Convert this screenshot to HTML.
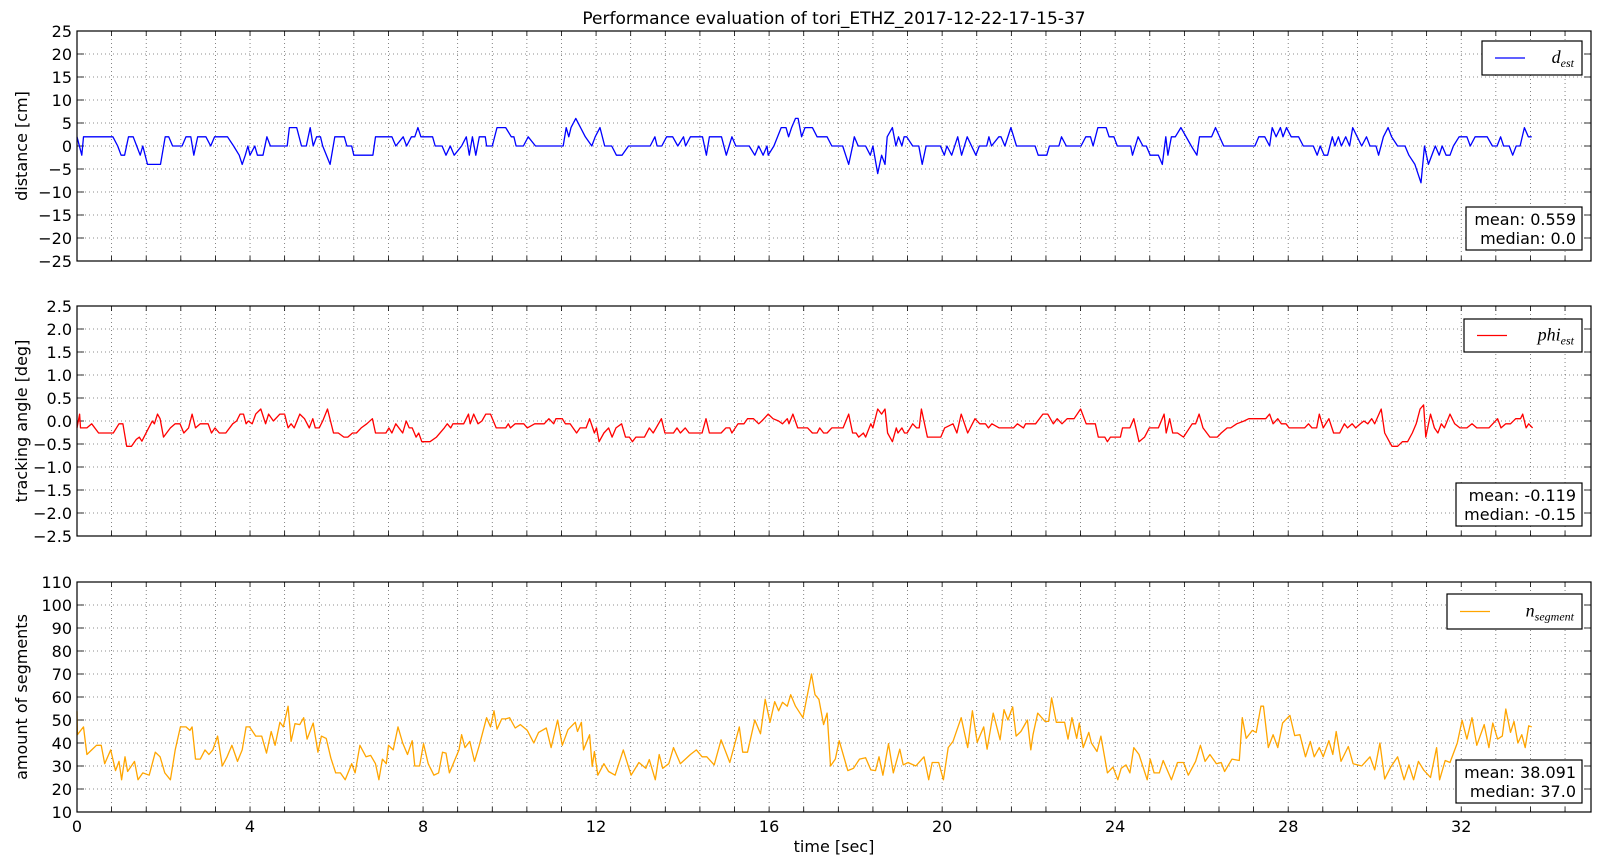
<!DOCTYPE html>
<html><head><meta charset="utf-8">
<style>
html,body{margin:0;padding:0;background:#fff;}
svg{display:block;font-family:"DejaVu Sans","Liberation Sans",sans-serif;}
</style></head>
<body>
<svg id="chart" width="1600" height="866" viewBox="0 0 1600 866" xmlns="http://www.w3.org/2000/svg">
<rect width="1600" height="866" fill="#fff"/>
<text x="834" y="24" font-size="17" text-anchor="middle">Performance evaluation of tori_ETHZ_2017-12-22-17-15-37</text>
<text x="834" y="852" font-size="16" text-anchor="middle">time [sec]</text>
</svg>
<script>
// ---- data ----
const xTickLabels = [0,4,8,12,16,20,24,28,32];
const dTicks = [25,20,15,10,5,0,-5,-10,-15,-20,-25];
const phiTicks = [2.5,2.0,1.5,1.0,0.5,0.0,-0.5,-1.0,-1.5,-2.0,-2.5];
const segTicks = [110,100,90,80,70,60,50,40,30,20,10];

const dTime = [0,0.11,0.15,0.83,0.94,1.02,1.10,1.19,1.30,1.38,1.46,1.52,1.63,1.93,2.04,2.12,2.21,2.43,2.52,2.63,2.70,2.79,2.98,3.09,3.18,3.48,3.62,3.75,3.82,3.89,3.95,4.00,4.11,4.17,4.30,4.39,4.47,4.86,4.91,5.08,5.19,5.30,5.39,5.46,5.54,5.63,5.68,5.85,5.96,6.18,6.24,6.35,6.40,6.84,6.90,7.28,7.37,7.54,7.62,7.73,7.81,7.88,7.95,8.22,8.28,8.44,8.53,8.63,8.72,8.89,9.00,9.07,9.14,9.22,9.30,9.44,9.47,9.60,9.71,9.91,10.04,10.10,10.15,10.32,10.43,10.60,11.24,11.31,11.37,11.42,11.53,11.75,11.90,11.98,12.09,12.20,12.36,12.47,12.60,12.75,13.25,13.36,13.41,13.52,13.63,13.77,13.89,14.02,14.07,14.18,14.46,14.55,14.62,14.90,15.01,15.14,15.23,15.54,15.67,15.76,15.86,15.95,15.98,16.11,16.28,16.39,16.45,16.52,16.61,16.67,16.75,16.83,17.00,17.11,17.34,17.45,17.70,17.84,17.93,17.97,18.06,18.23,18.34,18.40,18.51,18.60,18.68,18.73,18.85,18.93,18.99,19.07,19.12,19.18,19.32,19.46,19.54,19.63,19.96,20.05,20.11,20.22,20.36,20.45,20.58,20.78,20.86,21.03,21.08,21.14,21.31,21.36,21.45,21.59,21.72,22.15,22.22,22.42,22.48,22.70,22.76,22.87,23.21,23.32,23.43,23.49,23.60,23.79,23.86,23.97,24.05,24.36,24.40,24.53,24.64,24.72,24.81,25.00,25.09,25.17,25.22,25.30,25.39,25.52,25.76,25.89,25.95,26.23,26.32,26.51,27.23,27.32,27.46,27.57,27.63,27.72,27.82,27.88,27.96,28.07,28.24,28.35,28.58,28.67,28.74,28.83,28.91,29.02,29.08,29.16,29.23,29.33,29.42,29.49,29.70,29.81,29.89,30.03,30.09,30.20,30.31,30.39,30.53,30.70,30.79,30.93,31.07,31.15,31.24,31.40,31.49,31.56,31.65,31.74,31.82,31.95,32.13,32.21,32.32,32.60,32.72,32.83,32.91,32.98,33.11,33.19,33.27,33.36,33.46,33.55,33.63];
const dValues = [2,-2,2,2,0,-2,-2,2,2,0,-2,0,-4,-4,2,2,0,0,2,2,-2,2,2,0,2,2,0,-2,-4,-2,0,-2,0,-2,-2,2,0,0,4,4,0,0,4,0,2,2,0,-4,2,2,0,0,-2,-2,2,2,0,2,0,2,2,4,2,2,0,0,-2,0,-2,0,2,-2,2,-2,2,2,0,0,4,4,2,2,0,0,2,0,0,4,2,4,6,2,0,2,4,0,0,-2,-2,0,0,2,0,0,2,2,0,2,0,2,2,-2,2,2,-2,2,0,0,-2,0,-2,0,-2,0,4,4,2,4,6,6,2,4,4,2,2,0,0,-4,0,2,0,0,-2,0,-6,-2,-4,2,4,0,2,0,2,2,0,0,-4,0,0,-2,0,-2,2,-2,2,-2,0,0,2,0,2,2,0,4,0,0,-2,-2,0,0,2,0,0,2,2,0,4,4,2,2,0,0,-2,2,0,0,-2,-2,-4,2,-2,2,2,4,0,-2,2,2,4,0,0,2,2,0,4,2,4,2,4,2,2,0,0,-2,0,-2,-2,2,0,2,0,2,0,4,0,2,0,0,-2,2,4,2,0,0,-2,-4,-8,0,-4,0,-2,0,-2,-2,0,2,2,0,2,2,0,0,2,0,0,-2,0,0,4,2,2];

const phiTime = [0,0.06,0.08,0.23,0.34,0.50,0.84,0.97,1.06,1.15,1.26,1.37,1.44,1.50,1.63,1.74,1.79,1.86,1.92,2.00,2.16,2.27,2.38,2.47,2.58,2.66,2.74,2.85,3.03,3.11,3.19,3.29,3.44,3.60,3.69,3.77,3.85,3.91,3.96,4.05,4.13,4.25,4.36,4.43,4.54,4.69,4.80,4.88,4.95,5.02,5.15,5.26,5.37,5.45,5.51,5.60,5.68,5.79,5.93,6.04,6.17,6.26,6.37,6.46,6.57,6.70,6.83,6.90,7.14,7.21,7.28,7.37,7.53,7.61,7.68,7.75,7.84,7.90,7.97,8.16,8.31,8.49,8.56,8.64,8.69,8.94,9.05,9.09,9.17,9.27,9.36,9.45,9.56,9.69,9.91,9.97,10.02,10.13,10.33,10.41,10.58,10.80,10.91,11.02,11.07,11.22,11.29,11.40,11.55,11.63,11.77,11.85,11.96,12.01,12.07,12.18,12.29,12.37,12.46,12.59,12.68,12.77,12.84,12.92,13.12,13.23,13.32,13.51,13.59,13.79,13.87,13.95,14.06,14.15,14.45,14.54,14.62,14.89,15.00,15.09,15.14,15.28,15.42,15.50,15.64,15.76,15.83,15.98,16.09,16.22,16.31,16.42,16.46,16.55,16.66,16.81,16.89,17.00,17.11,17.17,17.26,17.34,17.45,17.71,17.84,17.93,18.01,18.07,18.18,18.23,18.35,18.40,18.51,18.60,18.68,18.74,18.85,18.94,18.98,19.07,19.13,19.19,19.32,19.41,19.47,19.52,19.66,19.97,20.06,20.25,20.34,20.44,20.59,20.76,20.87,21.00,21.07,21.15,21.32,21.48,21.65,21.74,21.88,21.93,22.16,22.33,22.44,22.57,22.66,22.77,22.89,23.05,23.20,23.33,23.54,23.61,23.76,23.82,23.89,24.12,24.17,24.34,24.43,24.55,24.68,24.79,25.00,25.13,25.18,25.26,25.33,25.44,25.58,25.78,25.86,25.94,26.03,26.19,26.36,26.45,26.59,26.67,26.81,26.98,27.09,27.48,27.57,27.65,27.76,27.84,27.95,28.02,28.38,28.47,28.55,28.66,28.72,28.81,28.94,29.05,29.19,29.30,29.37,29.48,29.56,29.67,29.75,29.84,29.93,30.00,30.15,30.23,30.34,30.40,30.53,30.64,30.76,30.87,30.96,31.05,31.13,31.18,31.29,31.38,31.46,31.54,31.61,31.74,31.85,31.97,32.13,32.25,32.36,32.64,32.84,32.92,33.03,33.14,33.26,33.37,33.42,33.50,33.56,33.65];
const phiValues = [-0.15,0.15,-0.15,-0.15,-0.06,-0.26,-0.26,-0.06,-0.06,-0.55,-0.55,-0.4,-0.35,-0.44,-0.2,0.0,-0.06,0.15,0.05,-0.35,-0.15,-0.06,-0.06,-0.26,-0.15,0.15,-0.15,-0.06,-0.06,-0.26,-0.15,-0.26,-0.26,-0.06,0.0,0.15,0.15,-0.06,0.0,-0.06,0.15,0.26,-0.06,0.15,0.0,0.15,0.15,-0.15,-0.06,-0.15,0.15,0.05,-0.15,0.05,-0.15,-0.15,0.0,0.26,-0.26,-0.26,-0.35,-0.35,-0.26,-0.26,-0.15,-0.06,0.05,-0.26,-0.26,-0.15,-0.26,-0.06,-0.26,0.0,-0.15,-0.15,-0.35,-0.26,-0.45,-0.45,-0.35,-0.15,-0.06,-0.15,-0.06,-0.06,0.15,-0.06,0.15,-0.06,0.0,0.15,0.15,-0.15,-0.15,-0.06,-0.15,-0.06,-0.06,-0.15,-0.06,-0.06,0.05,-0.06,0.05,0.05,-0.06,-0.06,-0.26,-0.15,-0.15,0.05,-0.26,-0.15,-0.45,-0.26,-0.15,-0.35,-0.15,-0.06,-0.35,-0.35,-0.45,-0.35,-0.35,-0.15,-0.26,0.05,-0.26,-0.26,-0.15,-0.26,-0.15,-0.26,-0.26,0.05,-0.26,-0.26,-0.15,-0.15,-0.26,-0.06,-0.06,0.05,0.05,-0.06,0.0,0.15,0.05,0.0,-0.06,0.05,-0.06,0.15,-0.15,-0.15,-0.15,-0.26,-0.26,-0.15,-0.26,-0.26,-0.15,-0.15,0.15,-0.26,-0.26,-0.35,-0.26,-0.35,-0.06,-0.15,0.26,0.15,0.26,-0.26,-0.45,-0.15,-0.26,-0.15,-0.26,-0.26,-0.06,-0.15,-0.15,0.26,-0.35,-0.35,-0.15,-0.06,-0.26,0.15,-0.26,0.05,-0.06,-0.06,-0.15,-0.06,-0.15,-0.15,-0.15,-0.06,-0.15,-0.06,-0.06,0.15,0.15,-0.06,0.05,-0.06,0.05,0.05,0.26,-0.06,-0.06,-0.35,-0.35,-0.45,-0.35,-0.35,-0.15,-0.15,0.05,-0.45,-0.35,-0.15,-0.15,0.15,-0.26,0.05,-0.26,-0.26,-0.35,-0.06,-0.06,0.15,-0.15,-0.35,-0.35,-0.26,-0.15,-0.15,-0.06,0.0,0.05,0.05,0.15,-0.06,0.05,-0.06,-0.06,-0.15,-0.15,-0.06,-0.15,-0.15,0.15,-0.15,0.05,-0.26,-0.26,-0.06,-0.15,-0.06,-0.15,-0.06,0.0,-0.06,0.05,-0.06,0.26,-0.26,-0.45,-0.55,-0.55,-0.45,-0.45,-0.26,-0.06,0.26,0.35,-0.35,0.15,-0.15,-0.26,-0.06,-0.15,0.15,-0.06,-0.15,-0.15,-0.06,-0.15,-0.15,0.05,-0.15,-0.06,-0.06,0.05,0.05,0.15,-0.15,-0.06,-0.15];

const segTime = [0,0.01,0.15,0.23,0.34,0.45,0.56,0.64,0.78,0.89,0.97,1.03,1.11,1.17,1.33,1.41,1.52,1.67,1.81,1.92,2.03,2.16,2.27,2.39,2.52,2.61,2.66,2.74,2.85,2.96,3.05,3.14,3.25,3.36,3.47,3.58,3.71,3.82,3.91,3.99,4.13,4.27,4.38,4.49,4.58,4.69,4.77,4.88,4.95,5.04,5.15,5.24,5.32,5.46,5.57,5.65,5.76,5.87,5.98,6.09,6.20,6.35,6.43,6.54,6.68,6.79,6.90,6.98,7.06,7.15,7.20,7.31,7.42,7.53,7.64,7.75,7.81,7.92,8.01,8.12,8.25,8.36,8.45,8.53,8.61,8.72,8.83,8.89,8.97,9.08,9.19,9.30,9.47,9.56,9.64,9.71,9.82,9.91,10.00,10.13,10.25,10.41,10.56,10.67,10.85,10.96,11.11,11.22,11.35,11.52,11.57,11.66,11.71,11.85,11.91,11.96,12.04,12.18,12.29,12.44,12.63,12.81,12.99,13.15,13.23,13.37,13.46,13.54,13.68,13.79,13.95,14.18,14.32,14.45,14.56,14.73,14.89,15.09,15.31,15.39,15.50,15.67,15.80,15.91,16.02,16.13,16.22,16.31,16.42,16.50,16.61,16.78,16.98,17.06,17.15,17.26,17.34,17.42,17.53,17.62,17.82,17.95,18.09,18.23,18.35,18.46,18.54,18.63,18.76,18.87,19.02,19.10,19.21,19.39,19.58,19.69,19.77,19.92,20.03,20.14,20.25,20.44,20.59,20.70,20.81,20.96,21.04,21.18,21.34,21.43,21.52,21.63,21.71,21.82,21.97,22.05,22.10,22.21,22.38,22.46,22.53,22.64,22.83,22.91,23.00,23.11,23.17,23.26,23.39,23.45,23.58,23.67,23.82,23.95,24.06,24.14,24.25,24.34,24.43,24.55,24.74,24.81,24.90,25.02,25.11,25.30,25.44,25.58,25.69,25.86,25.97,26.08,26.19,26.34,26.45,26.53,26.70,26.87,26.94,27.03,27.17,27.26,27.37,27.43,27.54,27.65,27.76,27.87,28.04,28.15,28.27,28.40,28.51,28.60,28.72,28.81,28.94,29.03,29.11,29.22,29.39,29.50,29.70,29.89,30.00,30.12,30.23,30.37,30.53,30.68,30.79,30.90,31.01,31.13,31.29,31.43,31.50,31.63,31.74,31.91,32.02,32.13,32.25,32.36,32.53,32.64,32.73,32.84,32.95,33.03,33.14,33.22,33.31,33.40,33.48,33.56,33.63];
const segValues = [53.8,43.6,47,35,37,39,39,31,37,28,32,24,34,27.6,32,24,27,26,36,34,27,24,37,47,47,45.5,47,33,33,37,35,37,43,30,34,39,32,37,47,47,43,43,35.6,45,39,49,47,56,40.7,48.4,48,51,41.7,48.7,36,43,42,33.4,27,27,24,31,27,39,34,34.6,31,24,33,31,39,37,47,40,35,41,30,30,39.7,31,26,27,36,35.6,27,32,37,43.6,38,40.7,32,39,51,47,54,46,50.5,50.5,51,46.5,48,45.5,40,44.6,46.5,38,50,39,45.8,49,45,49,37,43.6,29.8,36.3,26,31,27.6,26,37,26,31.5,29,32.8,24,35,29,31,38,31,35,37,34,34,30.5,41.4,31.5,47,36,36,50,44,59,49,58,54,57.7,56,61,56,51,70,61,59,48,53,30,33,41,28,29,33,33.6,28.3,28,34,26,39.7,27,37.3,30.5,31.5,30,34,24,31.5,31.5,24,38,40.7,51,38,54,40.3,47,37.3,53,41.4,54.5,50,55.7,43,45,50,37,43.6,53,49.4,49.4,59.6,49,49,41.7,51,42,48.7,38,44.6,40,36.3,43,27,29.5,24,29,30.5,27,38,35,24,33,27,27,32.4,24,31.5,31.5,26,32,39,32,35,31,31.5,27.6,33,32.4,51,42,45.5,44.6,56,56,38,43.6,38,48.7,52,43.2,43.6,34,40.7,34,38,34,41,35,45,32,38.5,31,30,34,28.3,40,24.3,29.5,34,24,30.5,24,32,28.3,25,38,24,32.4,31.5,40,49.9,41.7,51,39,48,38,48.7,41.7,43,54.8,44.6,49.4,40,43.6,38,47.5,47];

// ---- layout ----
const X0 = 77, X1 = 1591, TMIN = 0, TMAX = 35;
const xScale = t => X0 + (t - TMIN) / (TMAX - TMIN) * (X1 - X0);
const NS = "http://www.w3.org/2000/svg";
const svg = document.getElementById('chart');
function mk(tag, attrs, parent) {
  const e = document.createElementNS(NS, tag);
  for (const k in attrs) e.setAttribute(k, attrs[k]);
  (parent || svg).appendChild(e);
  return e;
}

const panels = [
  {key:'distance', top:31, bot:261, ymin:-25, ymax:25, ticks:dTicks, fmt:v=>(v<0?'\u2212'+Math.abs(v):String(v)), title:'distance [cm]', t:dTime, v:dValues, color:'#0000ff',
   legend:{x:1482,y:41,w:100,h:34,label:'d',sub:'est'}, stats:{x:1466,y:207,w:116,h:43,l1:'mean: 0.559',l2:'median: 0.0'}},
  {key:'tracking-angle', top:306, bot:536, ymin:-2.5, ymax:2.5, ticks:phiTicks, fmt:v=>(v<0?'\u2212'+Math.abs(v).toFixed(1):v.toFixed(1)), title:'tracking angle [deg]', t:phiTime, v:phiValues, color:'#ff0000',
   legend:{x:1464,y:319,w:118,h:33,label:'phi',sub:'est'}, stats:{x:1456,y:483,w:126,h:43,l1:'mean: -0.119',l2:'median: -0.15'}},
  {key:'segments', top:582, bot:812, ymin:10, ymax:110, ticks:segTicks, fmt:v=>String(v), title:'amount of segments', t:segTime, v:segValues, color:'#ffa500',
   legend:{x:1447,y:594,w:135,h:35,label:'n',sub:'segment'}, stats:{x:1456,y:760,w:126,h:43,l1:'mean: 38.091',l2:'median: 37.0'}}
];

panels.forEach((p, pi) => {
  const yScale = v => p.bot - (v - p.ymin) / (p.ymax - p.ymin) * (p.bot - p.top);
  const g = mk('g', {});
  
  
  // grid vertical every 0.8 s
  for (let i = 1; i * 0.8 < TMAX; i++) {
    const x = xScale(i * 0.8);
    const gl = mk('line', {x1:x, x2:x, y1:p.top, y2:p.bot, stroke:'#000', 'stroke-width':0.8, 'stroke-dasharray':'1,3', opacity:0.6}, g);
    
    
    mk('line', {x1:x, x2:x, y1:p.bot, y2:p.bot-5, stroke:'#000', 'stroke-width':0.8}, g);
    mk('line', {x1:x, x2:x, y1:p.top, y2:p.top+5, stroke:'#000', 'stroke-width':0.8}, g);
  }
  // y grid + ticks
  p.ticks.forEach(v => {
    const y = yScale(v);
    if (v !== p.ymin && v !== p.ymax) {
      const gl = mk('line', {x1:X0, x2:X1, y1:y, y2:y, stroke:'#000', 'stroke-width':0.8, 'stroke-dasharray':'1,3', opacity:0.6}, g);
      
      
    }
    mk('line', {x1:X0, x2:X0+7, y1:y, y2:y, stroke:'#000', 'stroke-width':0.8}, g);
    mk('line', {x1:X1-7, x2:X1, y1:y, y2:y, stroke:'#000', 'stroke-width':0.8}, g);
    const tl = mk('text', {x:X0-5, y:y+6, 'font-size':16, 'text-anchor':'end'}, g);
    
    
    tl.textContent = p.fmt(v);
  });
  // series line
  let d = '';
  for (let i = 0; i < p.t.length; i++) d += (i ? 'L' : 'M') + xScale(p.t[i]).toFixed(1) + ',' + yScale(p.v[i]).toFixed(1);
  const line = mk('path', {d:d, fill:'none', stroke:p.color, 'stroke-width':1.3, 'stroke-linejoin':'round'}, g);
  
  
  // spines
  const fr = mk('rect', {x:X0, y:p.top, width:X1-X0, height:p.bot-p.top, fill:'none', stroke:'#000', 'stroke-width':1.2}, g);
  
  
  // y-axis title
  const cy = (p.top + p.bot) / 2;
  const yt = mk('text', {x:0, y:0, 'font-size':16, 'text-anchor':'middle', transform:'translate(27,'+cy+') rotate(-90)'}, g);
  
  
  yt.textContent = p.title;
  // legend
  const L = p.legend;
  const lg = mk('g', {}, g);
  
  
  mk('rect', {x:L.x, y:L.y, width:L.w, height:L.h, fill:'#fff', stroke:'#000', 'stroke-width':1.2}, lg);
  mk('line', {x1:L.x+13, x2:L.x+43, y1:L.y+L.h/2, y2:L.y+L.h/2, stroke:p.color, 'stroke-width':1.3}, lg);
  const lt = mk('text', {x:L.x+L.w-8, y:L.y+L.h/2+5, 'font-size':18, 'text-anchor':'end', 'font-style':'italic', 'font-family':'"Liberation Serif","DejaVu Serif",serif'}, lg);
  
  
  lt.appendChild(document.createTextNode(L.label));
  const ts = mk('tspan', {'font-size':12, dy:4}, lt);
  ts.textContent = L.sub;
  // stats box
  const S = p.stats;
  const sg = mk('g', {}, g);
  
  
  mk('rect', {x:S.x, y:S.y, width:S.w, height:S.h, fill:'#fff', stroke:'#000', 'stroke-width':1.2}, sg);
  const s1 = mk('text', {x:S.x+S.w-6, y:S.y+18, 'font-size':16, 'text-anchor':'end'}, sg);
  s1.textContent = S.l1;
  const s2 = mk('text', {x:S.x+S.w-6, y:S.y+37, 'font-size':16, 'text-anchor':'end'}, sg);
  s2.textContent = S.l2;
  // x tick labels on bottom panel only
  if (pi === 2) {
    xTickLabels.forEach(v => {
      const xl = mk('text', {x:xScale(v), y:p.bot+20, 'font-size':16, 'text-anchor':'middle'}, g);
      
      
      xl.textContent = String(v);
    });
  }
});
</script>
</body></html>
